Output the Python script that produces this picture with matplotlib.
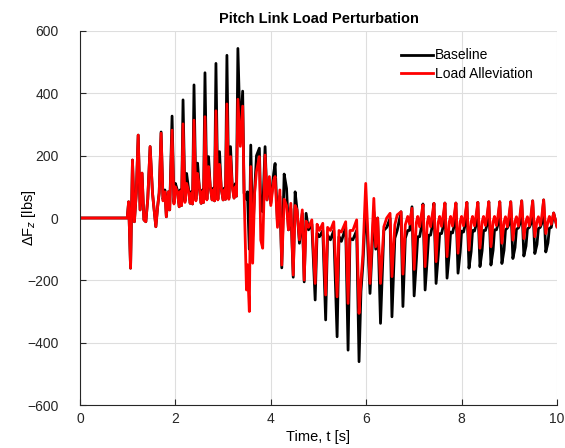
import matplotlib.pyplot as plt

plt.rcParams['font.family'] = ['Liberation Sans', 'DejaVu Sans']

# key points (time [s], baseline [lbs], load alleviation [lbs])
t_key = [
    0.00, 0.99, 1.02, 1.06, 1.10, 1.14, 1.18,
    1.22, 1.26, 1.30, 1.34, 1.38, 1.42,
    1.47, 1.52, 1.54, 1.59, 1.63, 1.66,
    1.70, 1.74, 1.78, 1.81, 1.85, 1.88,
    1.93, 1.97, 2.00, 2.04, 2.08, 2.10, 2.13,
    2.16, 2.20, 2.235, 2.27, 2.31, 2.335, 2.36,
    2.39, 2.43, 2.465, 2.50, 2.54, 2.565, 2.59,
    2.62, 2.66, 2.695, 2.73, 2.77, 2.795, 2.82,
    2.85, 2.89, 2.925, 2.96, 3.00, 3.025, 3.05,
    3.08, 3.12, 3.155, 3.19, 3.23, 3.255, 3.28,
    3.31, 3.36, 3.41, 3.44, 3.49, 3.51, 3.55,
    3.58, 3.62, 3.66, 3.70, 3.76, 3.79, 3.83, 3.88, 3.92, 3.97, 4.00, 4.06, 4.09, 4.14, 4.19,
    4.23, 4.28, 4.33, 4.37, 4.42,
    4.47, 4.51, 4.55, 4.60, 4.66,
    4.70, 4.74, 4.79, 4.86,
    4.93, 4.97, 5.02, 5.09,
    5.15, 5.19, 5.25, 5.32,
    5.39, 5.43, 5.48, 5.57,
    5.62, 5.66, 5.72, 5.80,
    5.85, 5.89, 5.93, 5.99, 6.02,
    6.08, 6.16, 6.20, 6.24,
    6.30, 6.37, 6.43, 6.50,
    6.54, 6.60, 6.65, 6.73,
    6.77, 6.82, 6.87, 6.91, 6.96,
    7.005, 7.05, 7.08, 7.12, 7.15, 7.19,
    7.235, 7.28, 7.31, 7.35, 7.38, 7.42,
    7.465, 7.51, 7.54, 7.58, 7.61, 7.65,
    7.695, 7.74, 7.77, 7.81, 7.84, 7.88,
    7.925, 7.97, 8.00, 8.04, 8.07, 8.11,
    8.155, 8.20, 8.23, 8.27, 8.30, 8.34,
    8.385, 8.43, 8.46, 8.50, 8.53, 8.57,
    8.615, 8.66, 8.69, 8.73, 8.76, 8.80,
    8.845, 8.89, 8.92, 8.96, 8.99, 9.03,
    9.075, 9.12, 9.15, 9.19, 9.22, 9.26,
    9.305, 9.35, 9.38, 9.42, 9.45, 9.49,
    9.535, 9.58, 9.61, 9.65, 9.68, 9.72,
    9.765, 9.81, 9.84, 9.88, 9.93, 10.00,
]

baseline = [
    0, 0, 52, -161, 186, -12, 80,
    266, 26, 144, -6, -12, 60,
    229, 80, 48, -28, 40, 80,
    276, 60, 90, 4, 84, 26,
    327, 50, 111, 90, 36, 90, 40,
    379, 55, 143, 100, 47, 85, 45,
    427, 60, 176, 101, 47, 90, 50,
    466, 60, 197, 101, 58, 96, 55,
    496, 60, 213, 96, 58, 96, 60,
    522, 64, 229, 110, 64, 110, 70,
    544, 260, 407, 80, 60, 84, -100,
    234, -60, 84, 200, 224, 30, 20, 229, 58, 120, 47, 143, 175, -17, 70,
    -160, 141, 95, -38, 30,
    -190, 84, 26, -81, 15,
    -205, 15, -38, -20,
    -263, -49, -60, -40,
    -327, -55, -70, -40,
    -381, -60, -75, -30,
    -424, -65, -70, -40,
    -461, -236, -150, 40, -40,
    -242, 20, -100, 0,
    -338, -40, -30, -1,
    -317, -65, -40, 20,
    -284, -65, -40, -40, 36,
    -250, -140, -60, -60, -35, 45,
    -231, -130, -55, -55, -30, 47,
    -210, -120, -50, -50, -30, 48,
    -193, -115, -45, -48, -28, 48,
    -177, -110, -42, -45, -25, 50,
    -161, -108, -40, -42, -25, 50,
    -156, -105, -40, -40, -24, 52,
    -151, -104, -38, -38, -22, 52,
    -146, -103, -38, -32, -22, 52,
    -130, -95, -36, -32, -20, 55,
    -122, -90, -35, -30, -20, 55,
    -114, -85, -34, -30, -18, 58,
    -109, -80, -33, -30, 16, -28,
]

alleviation = [
    0, 0, 52, -161, 186, -12, 80,
    266, 26, 144, -6, -12, 60,
    229, 80, 48, -28, 40, 80,
    272, 55, 84, 4, 84, 26,
    282, 45, 100, 85, 36, 85, 40,
    302, 50, 111, 90, 47, 80, 45,
    314, 55, 143, 101, 47, 85, 50,
    325, 58, 165, 101, 58, 90, 55,
    344, 58, 172, 96, 58, 90, 60,
    366, 60, 197, 100, 64, 100, 70,
    381, 230, 359, 80, -231, -150, -300,
    165, -145, 79, 150, 197, -71, -97, 202, 58, 133, 40, 120, 133, -30, 90,
    -151, 60, 40, -38, 47,
    -183, 40, 26, -70, 26,
    -199, -10, -30, -6,
    -210, -20, -40, -17,
    -247, -30, -40, -12,
    -253, -40, -45, -12,
    -274, -40, -40, -6,
    -306, -200, -120, 111, 4,
    -210, 63, -92, 0,
    -210, -28, 0, 15,
    -188, -22, 10, 20,
    -180, -22, 5, -20, 31,
    -165, -15, 5, -28, 4, 42,
    -156, -15, 5, -28, 4, 47,
    -140, -14, 5, -27, 4, 48,
    -124, -13, 5, -26, 4, 48,
    -113, -12, 5, -25, 4, 50,
    -103, -12, 5, -25, 4, 50,
    -97, -12, 5, -24, 4, 52,
    -92, -12, 5, -24, 4, 52,
    -81, -12, 4, -28, 4, 52,
    -71, -10, 4, -26, 4, 55,
    -66, -10, 4, -25, 4, 55,
    -60, -10, 4, -24, 4, 58,
    -50, -12, 5, -20, 16, -28,
]

x_ticks = [0, 2, 4, 6, 8, 10]
y_ticks = [-600, -400, -200, 0, 200, 400, 600]

fig = plt.figure(figsize=(5.65, 4.48), dpi=100)
ax = fig.add_axes([80 / 565, 43 / 448, 477 / 565, 374 / 448])

ax.plot(t_key, baseline, color='black', linewidth=2.0, label='Baseline')
ax.plot(t_key, alleviation, color='#ff0000', linewidth=2.0, label='Load Alleviation')

ax.set_xlim(0, 10)
ax.set_ylim(-600, 600)
ax.set_xticks(x_ticks)
ax.set_yticks(y_ticks)
ax.set_yticklabels([str(v).replace('-', '\u2212') for v in y_ticks])

ax.grid(True, color='#dedede', linewidth=0.8)
ax.set_axisbelow(True)
for side in ['top', 'right']:
    ax.spines[side].set_visible(False)
for side in ['left', 'bottom']:
    ax.spines[side].set_color('#262626')
    ax.spines[side].set_linewidth(0.8)
ax.tick_params(direction='in', length=4, width=0.8, colors='#262626', labelsize=10)
ax.tick_params(axis='y', pad=15.5)
ax.tick_params(axis='x', pad=5)

ax.set_title('Pitch Link Load Perturbation', fontsize=10.5, fontweight='bold', pad=6)
ax.set_xlabel('Time, t [s]', fontsize=10.5)
ax.set_ylabel('\u0394F$_{z}$ [lbs]', fontsize=10.5)
ax.xaxis.set_label_coords(0.5, -0.068)
ax.yaxis.set_label_coords(-0.088, 0.5)

ax.legend(
    loc='upper left',
    bbox_to_anchor=(0.646, 0.987),
    frameon=False,
    fontsize=10,
    handlelength=2.3,
    handletextpad=0.2,
    labelspacing=0.35,
)

fig.savefig('out.png', dpi=100)
